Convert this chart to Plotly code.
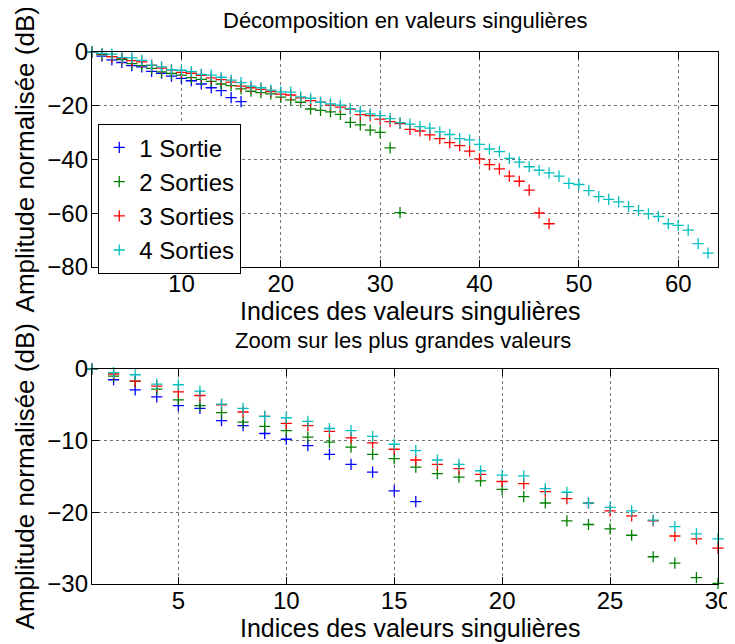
import plotly.graph_objects as go
from plotly.subplots import make_subplots

series_names = ["1 Sortie", "2 Sorties", "3 Sorties", "4 Sorties"]
series_colors = ["#0000FF", "#008000", "#FF0000", "#00BFBF"]

sortie1 = [0, -1.5, -2.9, -3.9, -5.1, -5.5, -7.2, -7.9, -9.0, -9.8, -10.7, -11.9,
           -13.3, -14.4, -17.0, -18.5]
sortie2 = [0, -1.0, -1.7, -2.8, -4.3, -5.1, -6.1, -7.4, -8.0, -8.6, -9.5, -10.2,
           -10.9, -11.9, -12.5, -13.7, -14.6, -15.1, -15.6, -16.8, -17.8, -18.7,
           -21.2, -21.7, -22.3, -23.2, -26.2, -27.1, -29.1, -29.9, -35.7, -59.8]
sortie3 = [0, -0.7, -1.7, -2.4, -3.2, -3.7, -5.0, -6.0, -6.6, -7.6, -7.9, -8.7,
           -9.6, -10.3, -11.2, -12.7, -13.3, -13.9, -14.7, -15.7, -16.0, -17.1,
           -18.1, -18.7, -19.8, -20.5, -21.2, -23.3, -23.7, -25.0, -25.9, -26.6,
           -28.8, -29.4, -30.8, -32.2, -33.7, -34.8, -36.9, -39.8, -41.9, -43.5,
           -46.2, -48.1, -51.4, -59.9, -63.9]
sortie4 = [0, -0.5, -0.8, -2.1, -2.2, -3.1, -4.9, -5.5, -6.6, -6.8, -7.3, -8.3,
           -8.6, -9.4, -10.5, -11.4, -12.7, -13.3, -14.2, -14.8, -14.9, -16.7,
           -17.2, -18.7, -19.3, -19.8, -21.1, -22.0, -23.0, -23.7, -24.8, -26.3,
           -26.8, -27.8, -28.3, -29.7, -30.7, -32.2, -32.7, -34.4, -36.1, -37.1,
           -39.6, -41.0, -42.7, -44.0, -45.0, -46.2, -48.9, -49.3, -51.6, -53.8,
           -54.8, -55.8, -57.5, -59.0, -60.2, -61.2, -63.9, -64.5, -66.3, -71.3,
           -74.8]
all_series = [sortie1, sortie2, sortie3, sortie4]

top_xticks = [10, 20, 30, 40, 50, 60]
top_yticks = [0, -20, -40, -60, -80]
bot_xticks = [5, 10, 15, 20, 25, 30]
bot_yticks = [0, -10, -20, -30]
zoom_max = 30

title_top = "Décomposition en valeurs singulières"
title_bot = "Zoom sur les plus grandes valeurs"
xlabel = "Indices des valeurs singulières"
ylabel = "Amplitude normalisée (dB)"

FONT = "Liberation Sans, Arial, Helvetica, sans-serif"
FS_TICK = 24
FS_TITLE = 22
FS_LABEL = 25
FS_YLABEL = 26
FS_LEG = 24

OFF = 8  # page body margin
W, H = 735, 644
ML = 92 - OFF
MT = 52 - OFF
MR = W - (722 - OFF)
MB = H - (584 - OFF)
PW = W - ML - MR
PH = H - MT - MB

def py(ypx):
    return (H - MB - (ypx - OFF)) / PH

def px(xpx):
    return ((xpx - OFF) - ML) / PW

fig = make_subplots(rows=2, cols=1, vertical_spacing=0.0)

for name, color, vals in zip(series_names, series_colors, all_series):
    xs = list(range(1, len(vals) + 1))
    mk = dict(symbol="cross-thin", size=8, color=color, line=dict(width=1.3, color=color))
    fig.add_trace(go.Scatter(x=xs, y=vals, mode="markers", name=name, marker=mk,
                             cliponaxis=False, showlegend=True), row=1, col=1)
    xz = [x for x in xs if x <= zoom_max]
    yz = vals[:len(xz)]
    fig.add_trace(go.Scatter(x=xz, y=yz, mode="markers", name=name, marker=mk,
                             cliponaxis=False, showlegend=False), row=2, col=1)

axis_common = dict(showline=True, linecolor="black", linewidth=1.3, mirror="allticks",
                   ticks="inside", ticklen=7, tickwidth=1, tickcolor="black",
                   showgrid=True, gridcolor="rgba(0,0,0,0.55)", griddash="dot", gridwidth=1,
                   zeroline=False, ticklabeloverflow="allow",
                   tickfont=dict(family=FONT, size=FS_TICK, color="black"))

fig.update_xaxes(**axis_common, ticklabelstandoff=-5)
fig.update_yaxes(**axis_common, ticklabelstandoff=-2)

fig.update_layout(
    xaxis=dict(range=[1, 64], tickvals=top_xticks, domain=[0, 1]),
    yaxis=dict(range=[-80, 0], tickvals=top_yticks, domain=[py(267), 1]),
    xaxis2=dict(range=[1, 30], tickvals=bot_xticks, domain=[0, 1]),
    yaxis2=dict(range=[-30, 0], tickvals=bot_yticks, domain=[0, py(369)]),
)

fig.update_layout(
    width=W, height=H,
    margin=dict(l=ML, r=MR, t=MT, b=MB),
    paper_bgcolor="white", plot_bgcolor="white",
    font=dict(family=FONT, size=FS_TICK, color="black"),
    legend=dict(x=px(98), y=py(124), xanchor="left", yanchor="top",
                bgcolor="white", bordercolor="black", borderwidth=1.3,
                font=dict(family=FONT, size=FS_LEG, color="black"),
                itemsizing="trace", tracegroupgap=0),
)

annots = [
    dict(text=title_top, x=px(407), y=py(21), font_size=FS_TITLE),
    dict(text=xlabel, x=px(412), y=py(311), font_size=FS_LABEL),
    dict(text=title_bot, x=px(405), y=py(341), font_size=FS_TITLE),
    dict(text=xlabel, x=px(412), y=py(628), font_size=FS_LABEL),
    dict(text=ylabel, x=px(25), y=py(159), textangle=-90, font_size=FS_YLABEL),
    dict(text=ylabel, x=px(25), y=py(476), textangle=-90, font_size=FS_YLABEL),
]
for a in annots:
    fs = a.pop("font_size")
    fig.add_annotation(xref="paper", yref="paper", showarrow=False,
                       xanchor="center", yanchor="middle",
                       font=dict(family=FONT, size=fs, color="black"), **a)

fig.write_html("out.html")
